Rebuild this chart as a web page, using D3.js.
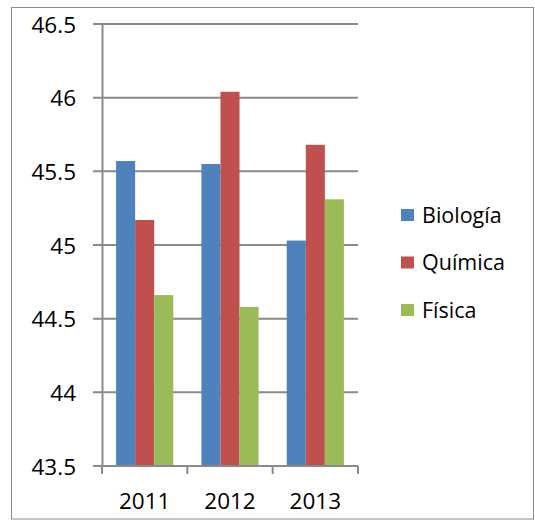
<!DOCTYPE html>
<html>
<head>
<meta charset="utf-8">
<script src="https://cdn.jsdelivr.net/npm/d3@7"></script>
<style>
  body { margin: 0; background: #fff; }
  svg text { font-family: "Open Sans", sans-serif; fill: #000; }
</style>
</head>
<body>
<script>
// data
const years = ["2011", "2012", "2013"];
const subjects = ["Biología", "Química", "Física"];
const biologia = [45.57, 45.55, 45.03];
const quimica = [45.17, 46.04, 45.68];
const fisica = [44.66, 44.58, 45.31];
const yTicks = [43.5, 44, 44.5, 45, 45.5, 46, 46.5];
const colors = ["#4F81BD", "#C0504D", "#9BBB59"];

const W = 535, H = 521;
const PLOT = { LEFT: 102, RIGHT: 358, TOP: 24, BOTTOM: 466 };

const series = [biologia, quimica, fisica];

var svg = d3.select("body").append("svg")
    .attr("width", W)
    .attr("height", H);

// outer frame
svg.append("rect")
    .attr("x", 11.5).attr("y", 7.5)
    .attr("width", 522).attr("height", 511.5)
    .attr("fill", "none")
    .attr("stroke", "#8c8c8c")
    .attr("stroke-width", 1);

const x0 = d3.scaleBand()
    .domain(years)
    .range([PLOT.LEFT, PLOT.RIGHT])
    .paddingInner(0.33)
    .paddingOuter(0.165);

const x1 = d3.scaleBand()
    .domain(subjects)
    .range([0, x0.bandwidth()]);

const y = d3.scaleLinear()
    .domain([43.5, 46.5])
    .range([PLOT.BOTTOM, PLOT.TOP]);

// gridlines (left end doubles as the tick mark)
svg.append("g")
    .selectAll("line")
    .data(yTicks)
    .enter()
    .append("line")
    .attr("x1", PLOT.LEFT - 9)
    .attr("x2", PLOT.RIGHT)
    .attr("y1", d => y(d))
    .attr("y2", d => y(d))
    .attr("stroke", "#8a8a8a")
    .attr("stroke-width", 2);

// bars
const groups = svg.append("g")
    .selectAll("g")
    .data(years)
    .enter()
    .append("g")
    .attr("transform", d => `translate(${x0(d)},0)`);

groups.selectAll("rect")
    .data((d, i) => subjects.map((s, k) => ({ s: s, v: series[k][i], c: colors[k] })))
    .enter()
    .append("rect")
    .attr("x", d => x1(d.s))
    .attr("width", x1.bandwidth())
    .attr("y", d => y(d.v))
    .attr("height", d => y(43.5) - y(d.v))
    .attr("fill", d => d.c);

// y axis
const yAxis = d3.axisLeft(y)
    .tickValues(yTicks)
    .tickSize(0)
    .tickPadding(26)
    .tickFormat(d3.format("~g"));

const gy = svg.append("g")
    .attr("transform", `translate(${PLOT.LEFT},0)`)
    .call(yAxis);
gy.select(".domain").attr("stroke", "#8a8a8a").attr("stroke-width", 2);
gy.selectAll("text").attr("font-size", 22.5).attr("dy", "0.36em");

// x axis
const xAxis = d3.axisBottom(x0)
    .tickSize(0)
    .tickPadding(27);

const gx = svg.append("g")
    .attr("transform", `translate(0,${PLOT.BOTTOM})`)
    .call(xAxis);
gx.select(".domain").remove();
gx.selectAll("text").attr("font-size", 22.5).attr("dy", "0.71em");

gx.append("line")
    .attr("x1", PLOT.LEFT - 1).attr("x2", PLOT.RIGHT)
    .attr("stroke", "#8a8a8a").attr("stroke-width", 2);

// category separators
const bounds = [PLOT.LEFT].concat(years.map(d => x0(d) + x0.bandwidth() + x0.step() * x0.paddingInner() / 2));
bounds[bounds.length - 1] = PLOT.RIGHT;
gx.selectAll(".sep")
    .data(bounds)
    .enter()
    .append("line")
    .attr("class", "sep")
    .attr("x1", d => d).attr("x2", d => d)
    .attr("y1", 0).attr("y2", 8)
    .attr("stroke", "#8a8a8a").attr("stroke-width", 2);

// legend
const legend = svg.append("g")
    .selectAll("g")
    .data(subjects)
    .enter()
    .append("g")
    .attr("transform", (d, i) => `translate(401,${215 + i * 47.5})`);

legend.append("rect")
    .attr("x", 0).attr("y", -6)
    .attr("width", 13).attr("height", 12)
    .attr("fill", (d, i) => colors[i]);

legend.append("text")
    .attr("x", 21)
    .attr("dy", "0.36em")
    .attr("font-size", 21.5)
    .text(d => d);
</script>
</body>
</html>
